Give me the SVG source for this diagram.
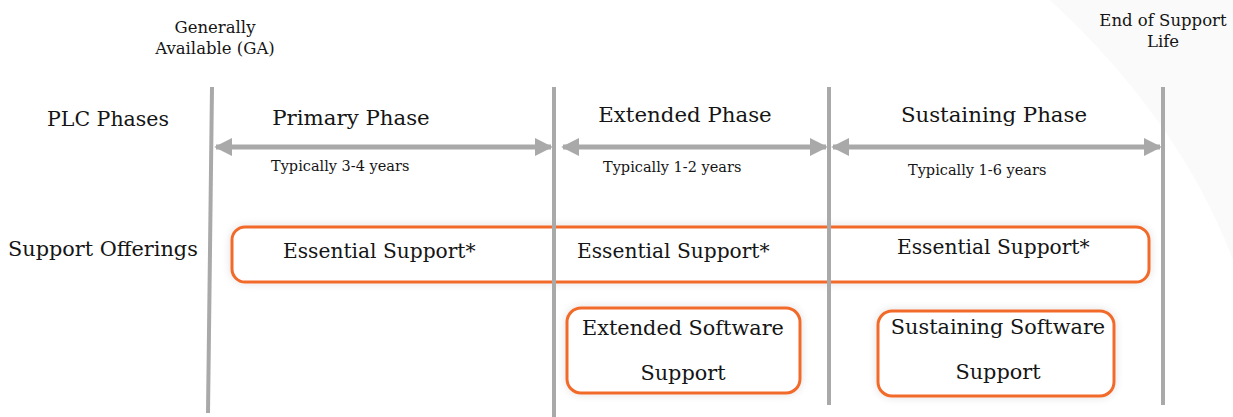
<svg xmlns="http://www.w3.org/2000/svg" width="1233" height="417" viewBox="0 0 1233 417">
<style>
.t{font-family:"DejaVu Serif","Liberation Serif",serif;fill:#151515}
.vl{stroke:#a9a9a9;stroke-width:4;fill:none}
.ar{stroke:#a9a9a9;stroke-width:5;fill:none;marker-start:url(#ah);marker-end:url(#ah)}
.box{fill:#ffffff;stroke:#f26b2b;stroke-width:3;filter:url(#sh)}
</style>
<defs>
<marker id="ah" viewBox="0 0 10 10" refX="9" refY="5" markerWidth="3.6" markerHeight="3.6" orient="auto-start-reverse" markerUnits="strokeWidth">
<path d="M0,0 L10,5 L0,10 z" fill="#a9a9a9"/>
</marker>
<filter id="sh" x="-10%" y="-30%" width="120%" height="160%">
<feGaussianBlur in="SourceAlpha" stdDeviation="5"/>
<feComponentTransfer><feFuncA type="linear" slope="0.12"/></feComponentTransfer>
<feMerge><feMergeNode/><feMergeNode in="SourceGraphic"/></feMerge>
</filter>
</defs>
<rect width="1233" height="417" fill="#ffffff"/>
<path d="M1050,0 Q1180,120 1233,260 L1233,0 z" fill="#fafafa"/>
<g id="labels">
<text class="t" x="215" y="33" font-size="16.5" text-anchor="middle">Generally</text>
<text class="t" x="215" y="54" font-size="16.5" text-anchor="middle">Available (GA)</text>
<text class="t" x="1163" y="26" font-size="16.5" text-anchor="middle">End of Support</text>
<text class="t" x="1163" y="47" font-size="16.5" text-anchor="middle">Life</text>
<text class="t" x="47" y="126" font-size="20.5">PLC Phases</text>
<text class="t" x="8" y="256" font-size="20.8">Support Offerings</text>
</g>
<g id="phases">
<text class="t" x="351" y="125" font-size="21.3" text-anchor="middle">Primary Phase</text>
<text class="t" x="685" y="122" font-size="21.3" text-anchor="middle">Extended Phase</text>
<text class="t" x="994" y="122" font-size="21.3" text-anchor="middle">Sustaining Phase</text>
<text class="t" x="271" y="171" font-size="14.5">Typically 3-4 years</text>
<text class="t" x="603" y="172" font-size="14.5">Typically 1-2 years</text>
<text class="t" x="908" y="175" font-size="14.5">Typically 1-6 years</text>
</g>
<g id="essential">
<rect class="box" x="232" y="227" width="917" height="55" rx="13"/>
<text class="t" x="283" y="258" font-size="20.2">Essential Support*</text>
<text class="t" x="577" y="258" font-size="20.2">Essential Support*</text>
<text class="t" x="897" y="254" font-size="20.2">Essential Support*</text>
</g>
<g id="extended-sw">
<rect class="box" x="567" y="308" width="233" height="85" rx="14"/>
<text class="t" x="683" y="335" font-size="20.8" text-anchor="middle">Extended Software</text>
<text class="t" x="683" y="380" font-size="20.8" text-anchor="middle">Support</text>
</g>
<g id="sustaining-sw">
<rect class="box" x="878" y="311" width="236" height="85" rx="14"/>
<text class="t" x="998" y="334" font-size="20.8" text-anchor="middle">Sustaining Software</text>
<text class="t" x="998" y="379" font-size="20.8" text-anchor="middle">Support</text>
</g>
<g id="connectors">
<line class="vl" x1="212" y1="87" x2="208" y2="413"/>
<line class="vl" x1="554" y1="87" x2="554" y2="417"/>
<line class="vl" x1="829" y1="87" x2="829" y2="405"/>
<line class="vl" x1="1163" y1="87" x2="1163" y2="405"/>
<line class="ar" x1="216" y1="147" x2="551" y2="147"/>
<line class="ar" x1="563" y1="147" x2="826" y2="147"/>
<line class="ar" x1="833" y1="147" x2="1160" y2="147"/>
</g>
</svg>
